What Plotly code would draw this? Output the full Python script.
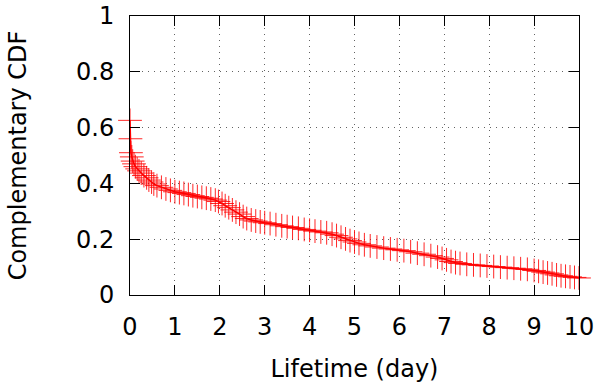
import plotly.graph_objects as go

lifetime_day = [0, 0.01, 0.02, 0.04, 0.06, 0.09, 0.12, 0.16, 0.2, 0.25, 0.31, 0.37, 0.42, 0.48, 0.53,
                0.6, 0.7, 0.8, 0.9, 1.0, 1.1, 1.2, 1.3, 1.4, 1.5, 1.6, 1.7, 1.8, 1.9, 1.97,
                2.05, 2.12, 2.2, 2.28, 2.36, 2.44, 2.52, 2.6, 2.7, 2.8, 2.9, 3.0, 3.12, 3.25,
                3.38, 3.5, 3.62, 3.75, 3.88, 4.0, 4.12, 4.25, 4.38, 4.5, 4.6, 4.7, 4.8, 4.9,
                5.0, 5.1, 5.22, 5.35, 5.5, 5.65, 5.8, 5.95, 6.1, 6.25, 6.4, 6.55, 6.7, 6.85,
                6.95, 7.05, 7.15, 7.25, 7.35, 7.5, 7.65, 7.8, 7.95, 8.1, 8.25, 8.4, 8.55, 8.7,
                8.85, 9.0, 9.1, 9.2, 9.3, 9.4, 9.5, 9.6, 9.7, 9.8, 9.9, 10.0]
ccdf = [0.626, 0.56, 0.51, 0.495, 0.48, 0.47, 0.46, 0.452, 0.445, 0.437, 0.428, 0.42, 0.412, 0.405, 0.398,
        0.392, 0.386, 0.38, 0.375, 0.37, 0.367, 0.364, 0.36, 0.356, 0.353, 0.35, 0.347, 0.344, 0.34, 0.335,
        0.328, 0.32, 0.313, 0.305, 0.297, 0.29, 0.281, 0.274, 0.269, 0.265, 0.262, 0.259, 0.256, 0.252,
        0.248, 0.245, 0.242, 0.239, 0.235, 0.232, 0.229, 0.226, 0.223, 0.218, 0.213, 0.207, 0.201, 0.195,
        0.19, 0.185, 0.18, 0.176, 0.172, 0.168, 0.165, 0.162, 0.159, 0.155, 0.15, 0.146, 0.141, 0.136,
        0.131, 0.126, 0.12, 0.116, 0.113, 0.11, 0.108, 0.106, 0.104, 0.102, 0.1, 0.098, 0.096, 0.094,
        0.092, 0.088, 0.085, 0.082, 0.079, 0.076, 0.072, 0.069, 0.067, 0.065, 0.063, 0.061]

x_ticks = list(range(0, 11))
y_ticks = [0, 0.2, 0.4, 0.6, 0.8, 1]

fig = go.Figure()
fig.add_trace(go.Scatter(
    x=lifetime_day, y=ccdf, mode="lines+markers",
    line=dict(color="red", width=1.5),
    marker=dict(symbol="cross-thin", size=17, line=dict(color="rgba(255,0,0,0.85)", width=1)),
    cliponaxis=False, showlegend=False,
))

font = dict(family="DejaVu Sans", size=24, color="black")
axis_common = dict(
    showline=True, linecolor="black", linewidth=1, mirror="ticks",
    ticks="inside", ticklen=10, tickcolor="black", tickwidth=1,
    showgrid=True, gridcolor="rgba(60,60,60,0.8)", gridwidth=1, griddash="1px,5px",
    zeroline=False, tickfont=font, automargin=False,
)
fig.update_xaxes(range=[0, 10], tickvals=x_ticks, ticklabelstandoff=10,
                 title=dict(text="Lifetime (day)", font=font, standoff=20), **axis_common)
fig.update_yaxes(range=[0, 1], tickvals=y_ticks, ticklabelstandoff=10,
                 title=dict(text="Complementary CDF", font=font, standoff=42), **axis_common)
fig.update_layout(
    width=600, height=389, margin=dict(l=130, r=21, t=16, b=94),
    plot_bgcolor="white", paper_bgcolor="white", font=font,
)
fig.write_html("out.html", config={"displayModeBar": False},
               post_script="document.body.style.margin='0';document.body.style.overflow='hidden';")
